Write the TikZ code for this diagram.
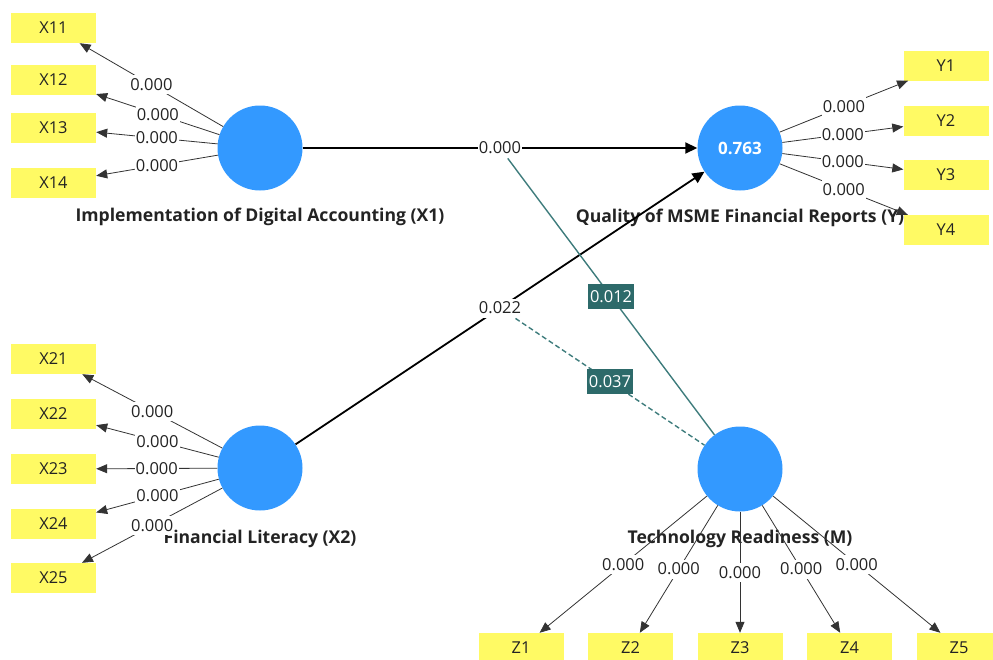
\documentclass[tikz,border=0pt]{standalone}
\usepackage{fontspec}
\setmainfont{Open Sans}
\usetikzlibrary{arrows.meta}
\definecolor{lv}{RGB}{51,153,255}
\definecolor{ind}{RGB}{255,250,100}
\definecolor{tealbox}{RGB}{45,106,106}
\definecolor{tealline}{RGB}{62,124,124}
\definecolor{txt}{RGB}{35,35,35}
\begin{document}
\begin{tikzpicture}[x=1pt,y=-1pt,
  lvnode/.style={circle,fill=lv,minimum size=85pt,inner sep=0pt,text=white,font=\fontsize{17}{19}\selectfont\bfseries},
  indbox/.style={rectangle,fill=ind,minimum width=85pt,minimum height=30pt,inner sep=0pt,font=\fontsize{16.4}{18}\selectfont,text=txt},
  lvlab/.style={anchor=base,font=\fontsize{17.6}{19}\selectfont\bfseries,text=txt},
  wlab/.style={fill=white,inner xsep=1pt,inner ysep=0pt,minimum height=19pt,font=\fontsize{16.5}{18}\selectfont,text=txt},
  tlab/.style={fill=tealbox,inner xsep=2pt,inner ysep=0pt,minimum height=25pt,text=white,font=\fontsize{16.5}{18}\selectfont},
  loading/.style={draw=black!80,line width=0.8pt,-{Triangle[length=11pt,width=9pt]}},
  structural/.style={draw=black,line width=1.8pt,-{Triangle[length=12pt,width=11pt]}},
  modline/.style={draw=tealline,line width=1.4pt},
]
\useasboundingbox (0,0) rectangle (993,659);
\clip (0,0) rectangle (993,659);
% latent variables
\node[lvnode] (X1) at (260,148) {};
\node[lvnode] (Y) at (740,148) {0.763};
\node[lvnode] (X2) at (260,468) {};
\node[lvnode] (M) at (740,469) {};
% indicators
\node[indbox] (X11) at (53.5,28) {X11};
\node[indbox] (X12) at (53.5,80) {X12};
\node[indbox] (X13) at (53.5,128) {X13};
\node[indbox] (X14) at (53.5,183) {X14};
\node[indbox] (Y1) at (946,65.5) {Y1};
\node[indbox] (Y2) at (946,121) {Y2};
\node[indbox] (Y3) at (946,175) {Y3};
\node[indbox] (Y4) at (946,230) {Y4};
\node[indbox] (X21) at (53.5,359) {X21};
\node[indbox] (X22) at (53.5,414) {X22};
\node[indbox] (X23) at (53.5,469) {X23};
\node[indbox] (X24) at (53.5,524) {X24};
\node[indbox] (X25) at (53.5,578) {X25};
\node[indbox] (Z1) at (521,648) {Z1};
\node[indbox] (Z2) at (630.5,648) {Z2};
\node[indbox] (Z3) at (740,648) {Z3};
\node[indbox] (Z4) at (849.5,648) {Z4};
\node[indbox] (Z5) at (959,648) {Z5};
% latent labels
\node[lvlab] (tX1) at (260,221) {Implementation of Digital Accounting (X1)};
\node[lvlab] (tY) at (740,222) {Quality of MSME Financial Reports (Y)};
\node[lvlab] (tX2) at (260,543) {Financial Literacy (X2)};
\node[lvlab] (tM) at (740,543) {Technology Readiness (M)};
% loadings
\foreach \i in {X11,X12,X13,X14}{\draw[loading] (X1) -- node[wlab]{0.000} (\i);}
\foreach \i in {X21,X22,X23,X24,X25}{\draw[loading] (X2) -- node[wlab]{0.000} (\i);}
\foreach \i in {Y1,Y2,Y3,Y4}{\draw[loading] (Y) -- node[wlab]{0.000} (\i);}
\foreach \i in {Z1,Z2,Z3,Z4,Z5}{\draw[loading] (M) -- node[wlab]{0.000} (\i);}
% structural paths
\draw[structural] (X1) -- node[wlab] (p1) {0.000} (Y);
\draw[structural] (X2) -- node[wlab] (p2) {0.022} (Y);
% moderation paths
\draw[modline] (p1) -- node[tlab] {0.012} (M);
\draw[modline,dash pattern=on 5pt off 3pt] (p2) -- node[tlab] {0.037} (M);
\end{tikzpicture}
\end{document}
